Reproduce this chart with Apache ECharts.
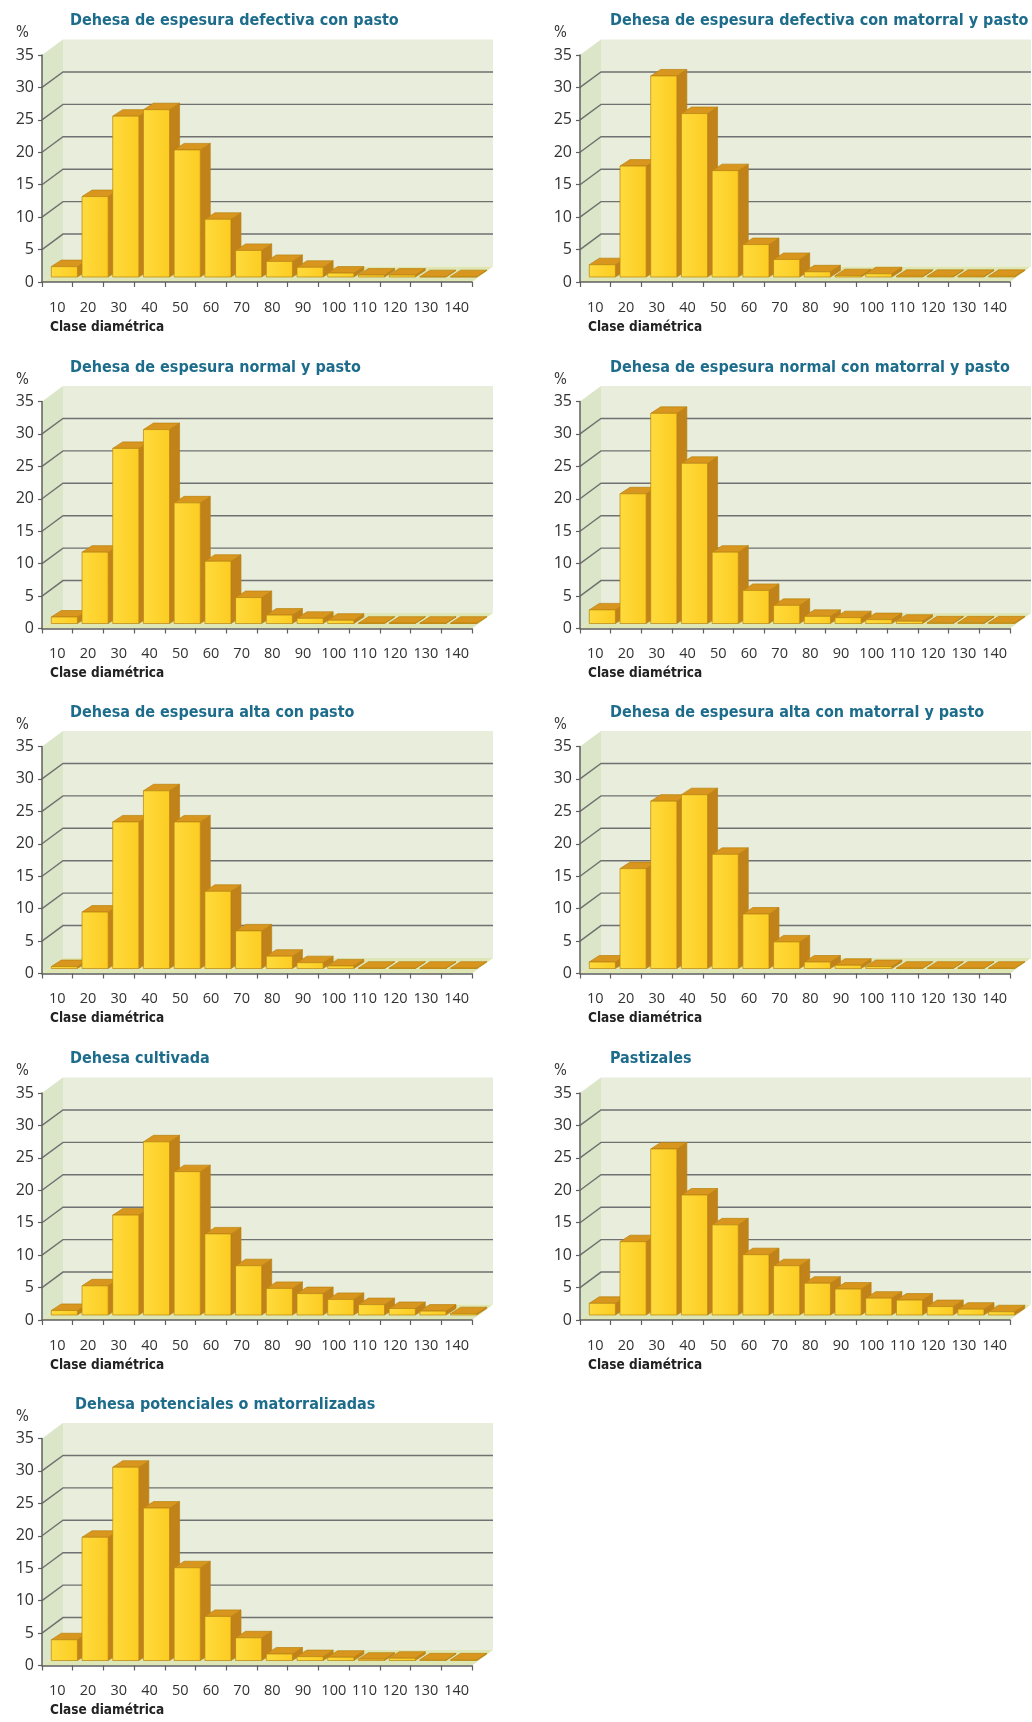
<!DOCTYPE html>
<html>
<head>
<meta charset="utf-8">
<title>Clase diamétrica por tipo de dehesa</title>
<script src="https://cdn.jsdelivr.net/npm/echarts@6.0.0/dist/echarts.min.js"></script>
<style>
  html, body { margin: 0; padding: 0; background: #ffffff; }
  #chart { width: 1032px; height: 1722px; }
</style>
</head>
<body>
<div id="chart"></div>
<script>
// ---- data -------------------------------------------------------------
const CATEGORIES = ['10', '20', '30', '40', '50', '60', '70', '80', '90', '100', '110', '120', '130', '140'];
const Y_TICKS = [0, 5, 10, 15, 20, 25, 30, 35];
const TITLES = [
  'Dehesa de espesura defectiva con pasto',
  'Dehesa de espesura defectiva con matorral y pasto',
  'Dehesa de espesura normal y pasto',
  'Dehesa de espesura normal con matorral y pasto',
  'Dehesa de espesura alta con pasto',
  'Dehesa de espesura alta con matorral y pasto',
  'Dehesa cultivada',
  'Pastizales',
  'Dehesa potenciales o matorralizadas'
];
const AXIS_UNIT = '%';
const AXIS_NAME = 'Clase diamétrica';

// percentage of trees per diameter class (cm)
const defectivaPasto    = [1.6, 12.4, 24.8, 25.8, 19.6, 8.9, 4.1, 2.4, 1.5, 0.6, 0.3, 0.3, 0.05, 0.05];
const defectivaMatorral = [1.9, 17.1, 31.0, 25.2, 16.4, 5.0, 2.7, 0.8, 0.2, 0.5, 0.1, 0.1, 0.1, 0.1];
const normalPasto       = [1.0, 11.0, 27.0, 29.9, 18.6, 9.6, 4.0, 1.3, 0.8, 0.5, 0.05, 0.05, 0.05, 0.05];
const normalMatorral    = [2.1, 20.0, 32.4, 24.7, 11.0, 5.1, 2.8, 1.1, 0.9, 0.6, 0.35, 0.1, 0.1, 0.1];
const altaPasto         = [0.3, 8.7, 22.6, 27.4, 22.6, 11.9, 5.8, 1.9, 0.9, 0.4, 0.05, 0.05, 0.05, 0.05];
const altaMatorral      = [1.0, 15.4, 25.8, 26.8, 17.6, 8.4, 4.1, 1.0, 0.5, 0.3, 0.05, 0.05, 0.05, 0.05];
const cultivada         = [0.7, 4.5, 15.4, 26.7, 22.1, 12.5, 7.6, 4.1, 3.3, 2.4, 1.6, 1.0, 0.6, 0.2];
const pastizales        = [1.8, 11.3, 25.6, 18.5, 13.9, 9.3, 7.6, 4.9, 4.0, 2.6, 2.3, 1.3, 0.9, 0.5];
const potenciales       = [3.2, 19.0, 29.8, 23.5, 14.3, 6.8, 3.5, 1.0, 0.6, 0.5, 0.2, 0.35, 0.1, 0.1];

const PANELS = [defectivaPasto, defectivaMatorral, normalPasto, normalMatorral,
                altaPasto, altaMatorral, cultivada, pastizales, potenciales];

// ---- layout -----------------------------------------------------------
const COL_X = [42, 580];
const ROW_TOP = [55, 401.5, 746.5, 1093, 1438.5];
const PLOT_W = 430, PLOT_H = 227;
const WALL_DX = 21, WALL_DY = -15.5;      // depth of the box (back wall offset)
const BAR_DX = 10, BAR_DY = -6.5;         // depth of each column
const BAR_LIFT = 5, BAR_SHIFT = 7, BAR_RATIO = 0.85;

const TITLE_COLOR = '#1d6c8b';
const TEXT_COLOR = '#333333';
const COND = '"DejaVu Sans Condensed", "Liberation Sans Narrow", sans-serif';
const NUM = '"Open Sans", "Noto Sans", sans-serif';

// ---- 3D-style renderers ----------------------------------------------
function renderWalls(params, api) {
  const cs = params.coordSys;
  const x0 = cs.x, x1 = cs.x + cs.width, yt = cs.y, yb = cs.y + cs.height;
  return {
    type: 'group',
    children: [
      { type: 'polygon', shape: { points: [[x0, yt], [x0 + WALL_DX, yt + WALL_DY], [x0 + WALL_DX, yb + WALL_DY], [x0, yb]] },
        style: { fill: '#dbe5c8' } },
      { type: 'rect', shape: { x: x0 + WALL_DX, y: yt + WALL_DY, width: cs.width, height: cs.height },
        style: { fill: '#e8eedb' } },
      { type: 'polygon', shape: { points: [[x0, yb], [x0 + WALL_DX, yb + WALL_DY], [x1 + WALL_DX, yb + WALL_DY], [x1, yb]] },
        style: { fill: '#dfe6b6' } }
    ]
  };
}

function renderGridLine(params, api) {
  const cs = params.coordSys;
  const y = api.coord([0, api.value(1)])[1];
  const x0 = cs.x, x1 = cs.x + cs.width;
  return {
    type: 'polyline',
    shape: { points: [[x0, y], [x0 + WALL_DX, y + WALL_DY], [x1 + WALL_DX, y + WALL_DY]] },
    style: { stroke: '#707070', lineWidth: 1.4, fill: null }
  };
}

function renderColumn(params, api) {
  const i = api.value(0), v = api.value(1);
  const top = api.coord([i, v]);
  const base = api.coord([i, 0]);
  const bw = api.size([1, 0])[0];
  const w = bw * BAR_RATIO;
  const left = top[0] + BAR_SHIFT - w / 2, right = left + w;
  const yt = top[1] - BAR_LIFT, yb = base[1] - BAR_LIFT;
  const edge = { stroke: '#b9830f', lineWidth: 0.7 };
  return {
    type: 'group',
    children: [
      { type: 'polygon',
        shape: { points: [[right, yt], [right + BAR_DX, yt + BAR_DY], [right + BAR_DX, yb + BAR_DY], [right, yb]] },
        style: Object.assign({ fill: '#c2821a' }, edge) },
      { type: 'polygon',
        shape: { points: [[left, yt], [left + BAR_DX, yt + BAR_DY], [right + BAR_DX, yt + BAR_DY], [right, yt]] },
        style: Object.assign({ fill: '#d8961f' }, edge) },
      { type: 'rect',
        shape: { x: left, y: yt, width: w, height: yb - yt },
        style: Object.assign({
          fill: new echarts.graphic.LinearGradient(0, 0, 1, 0, [
            { offset: 0, color: '#ffdb3d' }, { offset: 1, color: '#fccc22' }
          ])
        }, edge) }
    ]
  };
}

// ---- option ------------------------------------------------------------
const grids = [], xAxes = [], yAxes = [], series = [], titles = [];

PANELS.forEach((values, k) => {
  const col = k % 2, row = Math.floor(k / 2);
  const gx = COL_X[col], gy = ROW_TOP[row];

  grids.push({ left: gx, top: gy, width: PLOT_W, height: PLOT_H, containLabel: false });

  xAxes.push({
    type: 'category', gridIndex: k, data: CATEGORIES, boundaryGap: true, z: 5,
    axisLine: { show: true, lineStyle: { color: '#5f5f5f', width: 1.5 } },
    axisTick: { show: true, alignWithLabel: false, length: 5, lineStyle: { color: '#5f5f5f', width: 1.2 } },
    axisLabel: { color: TEXT_COLOR, fontFamily: NUM, fontSize: 14.5, margin: 18, interval: 0 },
    splitLine: { show: false }
  });

  yAxes.push({
    type: 'value', gridIndex: k, min: Y_TICKS[0], max: Y_TICKS[Y_TICKS.length - 1], interval: 5, z: 5,
    axisLine: { show: true, lineStyle: { color: '#5f5f5f', width: 1.5 } },
    axisTick: { show: true, length: 4, lineStyle: { color: '#5f5f5f', width: 1.2 } },
    axisLabel: { color: TEXT_COLOR, fontFamily: NUM, fontSize: 16, margin: 8 },
    splitLine: { show: false }
  });

  series.push({
    type: 'custom', xAxisIndex: k, yAxisIndex: k, z: 1, silent: true,
    data: [[0, 0]], renderItem: renderWalls
  });
  series.push({
    type: 'custom', xAxisIndex: k, yAxisIndex: k, z: 2, silent: true,
    data: Y_TICKS.slice(1, -1).map(t => [0, t]), encode: { x: 0, y: 1 },
    renderItem: renderGridLine
  });
  series.push({
    type: 'custom', name: TITLES[k], xAxisIndex: k, yAxisIndex: k, z: 3,
    data: values.map((v, i) => [i, v]), encode: { x: 0, y: 1 },
    renderItem: renderColumn
  });

  const titleLeft = col === 0 ? (k === 8 ? gx + 33 : gx + 28) : gx + 30;
  titles.push({
    text: TITLES[k], left: titleLeft, top: gy - 42, padding: 0,
    textStyle: { color: TITLE_COLOR, fontFamily: COND, fontWeight: 'bold', fontSize: 16 }
  });
  titles.push({
    text: AXIS_UNIT, left: gx - 26, top: gy - 29, padding: 0,
    textStyle: { color: TEXT_COLOR, fontFamily: COND, fontWeight: 'normal', fontSize: 15 }
  });
  titles.push({
    text: AXIS_NAME, left: gx + 8, top: gy + PLOT_H + 38, padding: 0,
    textStyle: { color: '#222222', fontFamily: COND, fontWeight: 'bold', fontSize: 13.5 }
  });
});

const chart = echarts.init(document.getElementById('chart'), null, { renderer: 'canvas' });
chart.setOption({
  backgroundColor: '#ffffff',
  animation: false,
  title: titles,
  grid: grids,
  xAxis: xAxes,
  yAxis: yAxes,
  series: series
});
</script>
</body>
</html>
